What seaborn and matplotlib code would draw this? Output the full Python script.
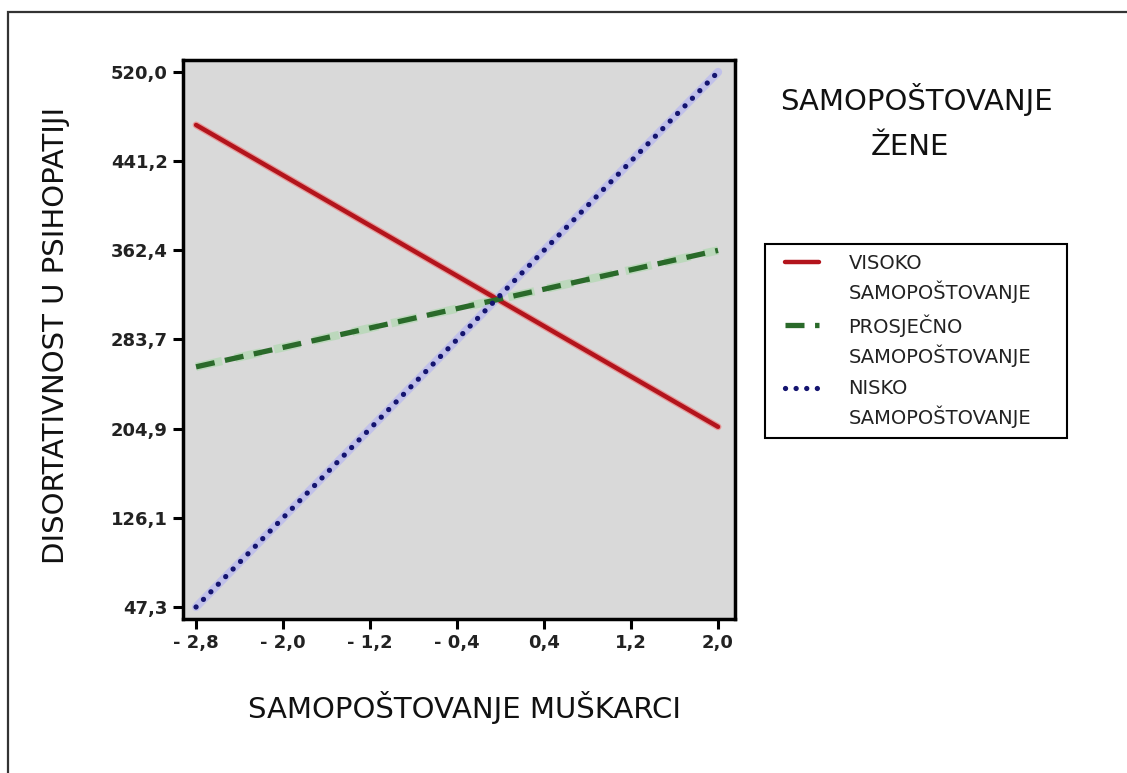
import matplotlib
matplotlib.use("Agg")
import matplotlib.pyplot as plt
from matplotlib.patches import Rectangle
from matplotlib.lines import Line2D
from matplotlib.legend_handler import HandlerLine2D
import numpy as np
import seaborn as sns
import pandas as pd

# ---- data ----
x_values = [-2.8, 2.0]
visoko = [473.2, 206.5]
prosjecno = [259.5, 362.4]
nisko = [47.3, 520.0]

x_ticks = [-2.8, -2.0, -1.2, -0.4, 0.4, 1.2, 2.0]
x_tick_labels = ["- 2,8", "- 2,0", "- 1,2", "- 0,4", "0,4", "1,2", "2,0"]
y_ticks = [47.3, 126.1, 204.9, 283.7, 362.4, 441.2, 520.0]
y_tick_labels = ["47,3", "126,1", "204,9", "283,7", "362,4", "441,2", "520,0"]

series_labels = ["VISOKO\nSAMOPOŠTOVANJE", "PROSJEČNO\nSAMOPOŠTOVANJE", "NISKO\nSAMOPOŠTOVANJE"]
x_label = "SAMOPOŠTOVANJE MUŠKARCI"
y_label = "DISORTATIVNOST U PSIHOPATIJI"
legend_title_1 = "SAMOPOŠTOVANJE"
legend_title_2 = "ŽENE"

sns.set_theme(style="white")
plt.rcParams['font.family'] = ['DejaVu Sans']

fig = plt.figure(figsize=(11.27, 7.73), dpi=100)
W, H = 1127, 773
ax = fig.add_axes([183 / W, 1 - 619 / H, (735 - 183) / W, (619 - 60) / H])
ax.set_facecolor("#d9d9d9")

df_v = pd.DataFrame({"x": x_values, "y": visoko})
df_p = pd.DataFrame({"x": x_values, "y": prosjecno})
df_n = pd.DataFrame({"x": x_values, "y": nisko})

# halos
sns.lineplot(data=df_v, x="x", y="y", ax=ax, color="#f07070", lw=5.0, alpha=0.6, legend=False)
sns.lineplot(data=df_p, x="x", y="y", ax=ax, color="#a0d8a0", lw=6, alpha=0.5, legend=False)
ax.lines[-1].set_dashes([3.2, 1.6])
sns.lineplot(data=df_n, x="x", y="y", ax=ax, color="#b8b8f0", lw=6, alpha=0.7, legend=False)

# main lines
sns.lineplot(data=df_v, x="x", y="y", ax=ax, color="#b3141c", lw=3.2, legend=False)
l_red = ax.lines[-1]
sns.lineplot(data=df_p, x="x", y="y", ax=ax, color="#2a6a2a", lw=3.8, legend=False)
l_green = ax.lines[-1]
l_green.set_dashes([3.6, 2.0])
sns.lineplot(data=df_n, x="x", y="y", ax=ax, color="#141470", lw=3.8, legend=False)
l_blue = ax.lines[-1]
l_blue.set_linestyle((0, (0.01, 2.0)))
l_blue.set_dash_capstyle("round")

ax.set_xlim(-2.92, 2.156)
ax.set_ylim(36.7, 530.6)
ax.set_xticks(x_ticks)
ax.set_xticklabels(x_tick_labels)
ax.set_yticks(y_ticks)
ax.set_yticklabels(y_tick_labels)
ax.tick_params(axis="both", direction="out", length=7, width=2.2, color="black",
               labelsize=13, pad=4, left=True, bottom=True)
for lab in ax.get_xticklabels() + ax.get_yticklabels():
    lab.set_fontweight("bold")
    lab.set_color("#222222")
for s in ax.spines.values():
    s.set_visible(True)
    s.set_color("black")
    s.set_linewidth(2.5)
ax.set_xlabel("")
ax.set_ylabel("")

fig.text(465 / W, 1 - 707 / H, x_label, ha="center", va="center", fontsize=21, color="#111111")
fig.text(56 / W, 1 - 335 / H, y_label, ha="center", va="center", rotation=90, fontsize=21,
         color="#111111")
fig.text(916 / W, 1 - 100 / H, legend_title_1, ha="center", va="center", fontsize=21,
         color="#111111")
fig.text(910 / W, 1 - 147 / H, legend_title_2, ha="center", va="center", fontsize=21,
         color="#111111")


class FirstLineHandler(HandlerLine2D):
    def create_artists(self, legend, orig_handle, xdescent, ydescent, width, height,
                       fontsize, trans):
        artists = super().create_artists(legend, orig_handle, xdescent, ydescent, width,
                                         height, fontsize, trans)
        for a in artists:
            yd = np.asarray(a.get_ydata(), dtype=float)
            a.set_ydata(yd + 0.85 * fontsize)
            xd = np.asarray(a.get_xdata(), dtype=float)
            if len(xd) >= 2:
                xd = np.linspace(xd[0] + 7.2, xd[-1], len(xd))
                a.set_xdata(xd)
        return artists


leg = ax.legend([l_red, l_green, l_blue], series_labels,
                loc="upper left",
                bbox_to_anchor=(765 / W, 1 - 437 / H, (1067 - 765) / W, (437 - 244) / H),
                bbox_transform=fig.transFigure, mode="expand",
                frameon=True, fancybox=False, edgecolor="black", framealpha=1,
                prop={"family": ["DejaVu Sans"], "size": 14},
                handlelength=2.3, handletextpad=1.5, labelspacing=0.62, borderpad=0.5,
                borderaxespad=0, handler_map={Line2D: FirstLineHandler()})
leg.get_frame().set_linewidth(1.5)
for t in leg.get_texts():
    t.set_color("#222222")
    t.set_linespacing(1.4)

# outer frame (open at right/bottom edges of picture)
fig.add_artist(Rectangle((8 / W, -0.1), 1.2, 1 - 12 / H + 0.1, transform=fig.transFigure,
                         fill=False, edgecolor="#333333", lw=1.6))

fig.savefig("out.png", dpi=100)
